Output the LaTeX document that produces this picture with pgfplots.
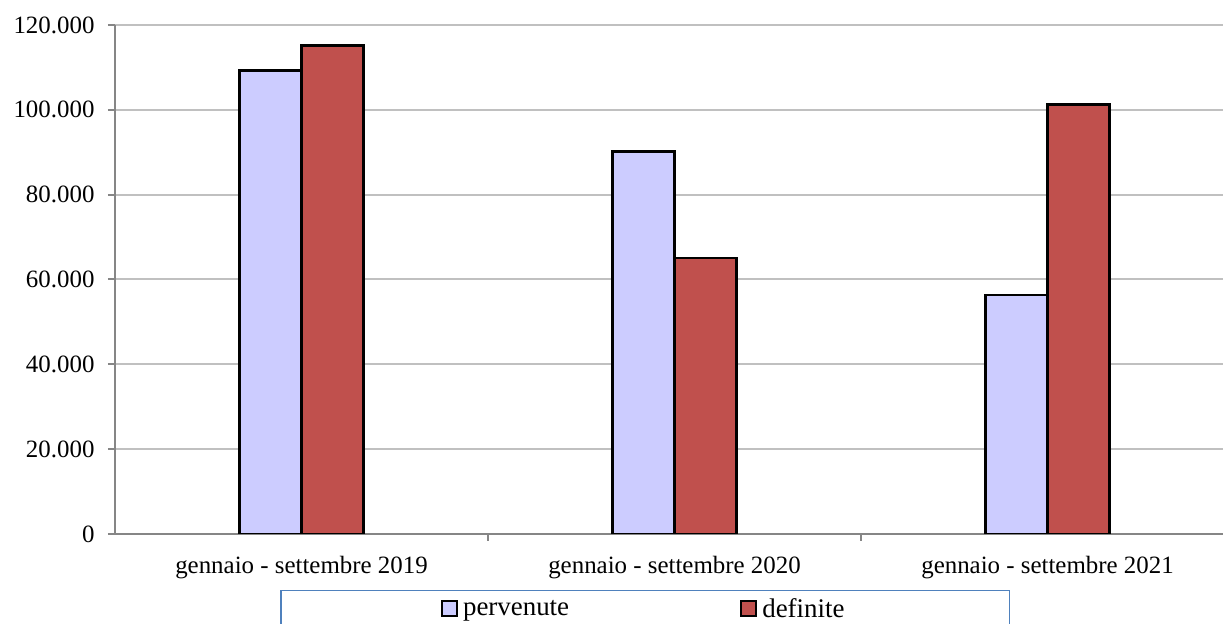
\documentclass[border=0pt]{standalone}
\usepackage{fontspec}
\setmainfont{Liberation Serif}
\usepackage{pgfplots}
\pgfplotsset{compat=1.18}
\definecolor{perv}{HTML}{CCCCFF}
\definecolor{defi}{HTML}{C0504D}
\definecolor{gridc}{HTML}{C0C0C0}
\definecolor{axc}{HTML}{868686}
\definecolor{legc}{HTML}{4F81BD}
\begin{document}
\begin{tikzpicture}
\path[use as bounding box] (0,0) rectangle (1223bp,624bp);
\begin{axis}[
  at={(115bp,90bp)}, anchor=south west,
  scale only axis, width=1108bp, height=509bp,
  xmin=-0.5, xmax=2.4705, ymin=0, ymax=120000,
  axis x line*=bottom, axis y line*=left,
  axis line style={-, draw=axc, line width=2bp},
  ymajorgrids, grid style={gridc, line width=2bp},
  ytick={0,20000,...,120000},
  scaled y ticks=false,
  /pgf/number format/fixed,
  /pgf/number format/1000 sep={.},
  /pgf/number format/assume math mode=true,
  yticklabel style={font=\fontsize{25}{29}\selectfont, xshift=-10bp},
  xtick={0,1,2},
  xticklabels={gennaio - settembre 2019, gennaio - settembre 2020, gennaio - settembre 2021},
  xticklabel style={font=\fontsize{25}{29}\selectfont, yshift=-12bp},
  minor xtick={0.5,1.5},
  tick align=outside, major tick length=7bp, minor tick length=7bp,
  major x tick style={draw=none},
  minor x tick style={draw=axc, line width=2bp},
  y tick style={draw=axc, line width=2bp},
  ybar=0pt, bar width=62bp,
  legend style={at={(0.4785,-0.110)}, anchor=north, legend columns=2, draw=legc, line width=1.5bp,
    font=\fontsize{27}{30}\selectfont, inner xsep=160bp, inner ysep=6bp,
    nodes={inner xsep=5bp},
    /tikz/every even column/.append style={column sep=166bp}},
  legend image code/.code={\draw[#1, draw=black, line width=2.2bp] (0bp,-7bp) rectangle (15bp,8bp);},
]
\addplot[fill=perv, draw=black, line width=2.5bp] coordinates {(0,109300) (1,90200) (2,56300)};
\addplot[fill=defi, draw=black, line width=2.5bp] coordinates {(0,115200) (1,65100) (2,101200)};
\legend{pervenute, definite}
\end{axis}
\end{tikzpicture}
\end{document}
